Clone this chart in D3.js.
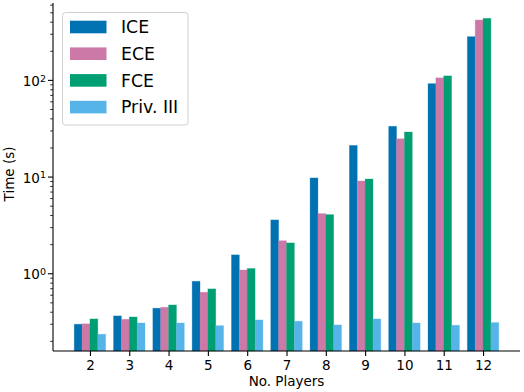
<!DOCTYPE html>
<html>
<head>
<meta charset="utf-8">
<script src="https://cdn.jsdelivr.net/npm/d3@7"></script>
<style>
  body { margin: 0; background: #fff; }
  text { font-family: "DejaVu Sans", sans-serif; fill: #000; }
</style>
</head>
<body>
<script>
// number of players on the x axis
var players = [ 2, 3, 4, 5, 6, 7, 8, 9, 10, 11, 12 ];

// run times in seconds
var iceTimes  = [ 0.297, 0.362, 0.435, 0.826, 1.55, 3.56, 9.68, 21.0, 33.1, 91.4, 280 ];
var eceTimes  = [ 0.300, 0.334, 0.445, 0.636, 1.08, 2.17, 4.14, 9.00, 24.6, 105, 416 ];
var fceTimes  = [ 0.337, 0.353, 0.470, 0.689, 1.12, 2.06, 4.04, 9.44, 28.9, 110, 433 ];
var privTimes = [ 0.234, 0.306, 0.306, 0.287, 0.329, 0.319, 0.292, 0.337, 0.306, 0.290, 0.309 ];

var seriesNames = [ 'ICE', 'ECE', 'FCE', 'Priv. III' ];
var seriesColors = [ '#0072B2', '#CC79A7', '#009E73', '#56B4E9' ];
var seriesData = [ iceTimes, eceTimes, fceTimes, privTimes ];

var majorTicks = [ 1, 10, 100 ];
var majorExponents = [ '0', '1', '2' ];

/**
 * draws the grouped bar chart on a log scale
 * @param {Number} width - svg width
 * @param {Number} height - svg height
 */
function createBars( width, height ){
    var left = 53, right = 520, top = 3, bottom = 351;
    var barWidth = 0.2;

    var svg = d3.select( 'body' ).append( 'svg' )
                .attr( 'width', width ).attr( 'height', height );

    var x = d3.scaleLinear()
              .domain( [ 1.06, 12.94 ] )
              .range( [ left, right ] );

    var y = d3.scaleLog()
              .domain( [ 0.157, 624 ] )
              .range( [ bottom, top ] );

    // bars, one group per series
    seriesData.forEach( function( values, s ){
        var offset = ( s - 1.5 ) * barWidth;
        svg.append( 'g' )
           .selectAll( 'rect' )
           .data( values )
           .enter()
           .append( 'rect' )
           .attr( 'x', function( d, i ) { return x( players[i] + offset - barWidth / 2 ); } )
           .attr( 'width', x( barWidth ) - x( 0 ) )
           .attr( 'y', function( d ) { return y( d ); } )
           .attr( 'height', function( d ) { return y.range()[0] - y( d ); } )
           .attr( 'fill', seriesColors[s] )
           .attr( 'stroke', seriesColors[s] )
           .attr( 'stroke-opacity', 0.35 )
           .attr( 'stroke-width', 0.8 );
    });

    // x axis
    var xAxis = svg.append( 'g' )
                   .attr( 'transform', 'translate(0,' + bottom + ')' )
                   .call( d3.axisBottom( x ).tickValues( players ).tickSize( 5 ).tickPadding( 4 )
                          .tickFormat( d3.format( 'd' ) ) );
    xAxis.select( '.domain' ).attr( 'd', 'M' + left + ',0H' + right ).attr( 'stroke-width', 1.1 );
    xAxis.selectAll( '.tick line' ).attr( 'stroke-width', 1.1 );
    xAxis.selectAll( 'text' ).attr( 'font-size', '13.5px' ).attr( 'font-family', 'DejaVu Sans' );

    // y axis: minor ticks first, then major ticks with 10^n labels
    var minorTicks = [];
    [ 0.1, 1, 10, 100 ].forEach( function( base ){
        for( var k = 2; k <= 9; k++ ){
            var v = base * k;
            if( v >= y.domain()[0] && v <= y.domain()[1] ) minorTicks.push( v );
        }
    });

    var yMinor = svg.append( 'g' )
                    .attr( 'transform', 'translate(' + left + ',0)' )
                    .call( d3.axisLeft( y ).tickValues( minorTicks ).tickSize( 2.8 ).tickFormat( '' ) );
    yMinor.select( '.domain' ).remove();
    yMinor.selectAll( '.tick line' ).attr( 'stroke-width', 0.8 );

    var yMajor = svg.append( 'g' )
                    .attr( 'transform', 'translate(' + left + ',0)' )
                    .call( d3.axisLeft( y ).tickValues( majorTicks ).tickSize( 5 ).tickFormat( '' ) );
    yMajor.select( '.domain' ).attr( 'd', 'M0,' + top + 'V' + bottom ).attr( 'stroke-width', 1.1 );
    yMajor.selectAll( '.tick line' ).attr( 'stroke-width', 1.1 );

    yMajor.selectAll( '.tick' )
          .append( 'text' )
          .attr( 'x', -7 )
          .attr( 'dy', '0.42em' )
          .attr( 'text-anchor', 'end' )
          .attr( 'font-size', '13.5px' )
          .each( function( d, i ){
              var t = d3.select( this );
              t.append( 'tspan' ).text( '10' );
              t.append( 'tspan' ).attr( 'dy', '-0.45em' ).attr( 'font-size', '9.5px' ).text( majorExponents[i] );
          });

    // axis titles
    svg.append( 'text' )
       .attr( 'x', ( left + right ) / 2 )
       .attr( 'y', 386 )
       .attr( 'text-anchor', 'middle' )
       .attr( 'font-size', '13.5px' )
       .text( 'No. Players' );

    svg.append( 'text' )
       .attr( 'transform', 'translate(14,' + ( ( top + bottom ) / 2 - 3 ) + ') rotate(-90)' )
       .attr( 'text-anchor', 'middle' )
       .attr( 'font-size', '13.5px' )
       .text( 'Time (s)' );

    // legend
    var legend = svg.append( 'g' );
    legend.append( 'rect' )
          .attr( 'x', 62.5 ).attr( 'y', 12.5 )
          .attr( 'width', 125.5 ).attr( 'height', 112.5 )
          .attr( 'rx', 3 )
          .attr( 'fill', '#fff' ).attr( 'fill-opacity', 0.8 )
          .attr( 'stroke', '#d0d0d0' ).attr( 'stroke-width', 1 );

    var items = legend.selectAll( '.item' )
                      .data( seriesNames )
                      .enter()
                      .append( 'g' )
                      .attr( 'class', 'item' )
                      .attr( 'transform', function( d, i ) { return 'translate(0,' + ( 27 + i * 26.7 ) + ')'; } );

    items.append( 'rect' )
         .attr( 'x', 70 ).attr( 'y', -6.3 )
         .attr( 'width', 36.5 ).attr( 'height', 12.6 )
         .attr( 'fill', function( d, i ) { return seriesColors[i]; } );

    items.append( 'text' )
         .attr( 'x', 121 )
         .attr( 'dy', '0.36em' )
         .attr( 'font-size', '17.3px' )
         .text( function( d ) { return d; } );
}

createBars( 524, 392 );
</script>
</body>
</html>
